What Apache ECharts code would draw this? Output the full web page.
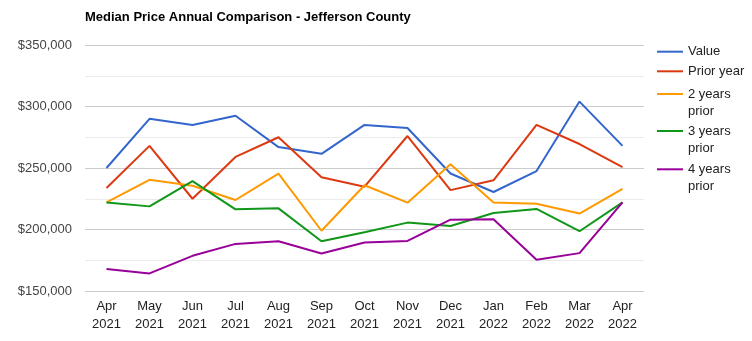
<!DOCTYPE html>
<html><head><meta charset="utf-8">
<script src="https://cdn.jsdelivr.net/npm/echarts@6/dist/echarts.min.js"></script>
<style>html,body{margin:0;padding:0;background:#fff}#c{width:752px;height:341px}</style>
</head><body><div id="c"></div>
<script>
const categories = ['Apr\n2021','May\n2021','Jun\n2021','Jul\n2021','Aug\n2021','Sep\n2021','Oct\n2021','Nov\n2021','Dec\n2021','Jan\n2022','Feb\n2022','Mar\n2022','Apr\n2022'];
const seriesNames = ['Value','Prior year','2 years\nprior','3 years\nprior','4 years\nprior'];
const value      = [250000,290000,285000,292500,267000,261500,285000,282500,245500,230500,247500,304000,268000];
const priorYear  = [233700,268000,225000,259000,275000,242500,234800,276000,232000,240000,285000,269500,250700];
const twoYears   = [222000,240400,235600,224000,245500,199000,236000,221800,253000,222000,221000,213000,233000];
const threeYears = [222000,218800,239300,216400,217200,190500,197800,205600,202900,213400,216700,198600,222000];
const fourYears  = [167800,164300,178600,188300,190500,180500,189400,190700,208000,208300,175400,180800,222000];
const yTicks = {min:150000, max:350000, interval:50000};

const colors = ['#3366cc','#dc3912','#ff9900','#109618','#990099'];
const dataSets = [value, priorYear, twoYears, threeYears, fourYears];
const LH = 17.5;
const iconY = [51.7, 71.3, 94, 131, 169.3];

const chart = echarts.init(document.getElementById('c'));
chart.setOption({
  animation:false,
  color: colors,
  title:{text:'Median Price Annual Comparison - Jefferson County', left:85, top:11, padding:0,
    textStyle:{fontFamily:'Liberation Sans, Arial', fontSize:13, fontWeight:'bold', color:'#000'}},
  legend: seriesNames.map((n,i)=>{
    const multi = n.indexOf('\n')>=0;
    return {
      data:[n], left:657, top: iconY[i] - (multi ? LH*1.5 : LH/2), orient:'vertical', icon:'rect',
      itemWidth:26, itemHeight:2, padding:0, selectedMode:false,
      formatter: name => multi ? ' \n'+name : name,
      textStyle:{fontFamily:'Liberation Sans, Arial', fontSize:13, color:'#222', lineHeight:LH}
    };
  }),
  grid:{left:85, right:108, top:45, bottom:50},
  xAxis:{type:'category', data:categories, boundaryGap:true,
    axisLine:{show:false}, axisTick:{show:false},
    axisLabel:{fontFamily:'Liberation Sans, Arial', fontSize:13, color:'#222', lineHeight:18, margin:6}},
  yAxis:{type:'value', min:yTicks.min, max:yTicks.max, interval:yTicks.interval,
    axisLine:{show:false}, axisTick:{show:false},
    axisLabel:{fontFamily:'Liberation Sans, Arial', fontSize:13, color:'#444', margin:13,
      formatter:v=>'$'+v.toLocaleString('en-US')},
    splitLine:{lineStyle:{color:'#cccccc', width:1}},
    minorTick:{show:false, splitNumber:2},
    minorSplitLine:{show:true, lineStyle:{color:'#ebebeb', width:1}}},
  series: seriesNames.map((n,i)=>({
    name:n, type:'line', data:dataSets[i], showSymbol:false, symbol:'none',
    lineStyle:{width:2, color:colors[i]}, itemStyle:{color:colors[i]}
  }))
});
</script></body></html>
